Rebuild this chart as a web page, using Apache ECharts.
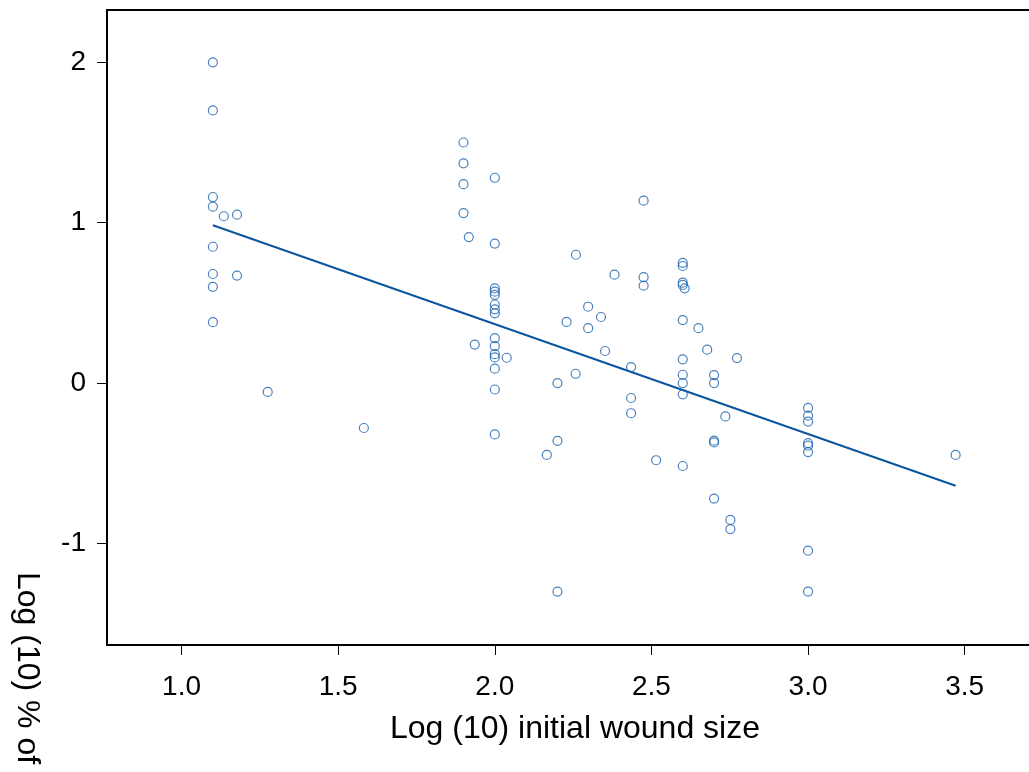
<!DOCTYPE html>
<html>
<head>
<meta charset="utf-8">
<script src="https://cdn.jsdelivr.net/npm/echarts@6.0.0/dist/echarts.min.js"></script>
<style>
  html, body { margin: 0; padding: 0; background: #fff; }
  #chart { width: 1029px; height: 772px; }
</style>
</head>
<body>
<div id="chart"></div>
<script>
const xVals = [
  1.1, 1.1, 1.1, 1.1, 1.1, 1.1, 1.1, 1.1,
  1.135, 1.177, 1.177, 1.275, 1.582,
  1.9, 1.9, 1.9, 1.9, 1.917, 1.936,
  2.0, 2.0, 2.0, 2.0, 2.0, 2.0, 2.0, 2.0, 2.0, 2.0, 2.0, 2.0, 2.0, 2.0, 2.0,
  2.038, 2.166, 2.2, 2.2, 2.2,
  2.229, 2.258, 2.259, 2.298, 2.298, 2.339, 2.352, 2.382,
  2.435, 2.435, 2.435, 2.475, 2.475, 2.475, 2.515,
  2.6, 2.6, 2.6, 2.6, 2.6, 2.6, 2.6, 2.6, 2.6, 2.6, 2.606,
  2.65, 2.678, 2.7, 2.7, 2.7, 2.7, 2.7,
  2.736, 2.752, 2.752, 2.773,
  3.0, 3.0, 3.0, 3.0, 3.0, 3.0, 3.0, 3.0,
  3.471
]
const yVals = [
  2.0, 1.70, 1.16, 1.10, 0.85, 0.68, 0.60, 0.38,
  1.04, 1.05, 0.67, -0.055, -0.28,
  1.50, 1.37, 1.24, 1.06, 0.91, 0.24,
  1.28, 0.87, 0.59, 0.57, 0.55, 0.49, 0.46, 0.435, 0.28, 0.23, 0.18, 0.16, 0.09, -0.04, -0.32,
  0.158, -0.448, 0.0, -0.36, -1.30,
  0.381, 0.058, 0.80, 0.476, 0.342, 0.412, 0.20, 0.676,
  0.10, -0.093, -0.188, 1.137, 0.66, 0.607, -0.481,
  0.75, 0.73, 0.626, 0.612, 0.393, 0.148, 0.052, 0.0, -0.07, -0.517, 0.591,
  0.342, 0.208, 0.05, 0.0, -0.359, -0.37, -0.72,
  -0.208, -0.853, -0.91, 0.156,
  -0.155, -0.203, -0.24, -0.375, -0.39, -0.43, -1.045, -1.30,
  -0.448
]

// fitted line end points
const fitX = [1.1, 3.471]
const fitY = [0.984, -0.64]

const xTicks = [1.0, 1.5, 2.0, 2.5, 3.0, 3.5]
const yTicks = [-1, 0, 1, 2]

const xTitle = 'Log (10) initial wound size'
const yTitle = 'Log (10) % of'

const FONT = 'Liberation Sans, Arial, sans-serif'

const chart = echarts.init(document.getElementById('chart'))

const points = xVals.map((x, i) => [x, yVals[i]])
const fitLine = fitX.map((x, i) => [x, fitY[i]])

// plot box runs past the right edge of the picture
const option = {
  animation: false,
  backgroundColor: '#fff',
  grid: {
    left: 107,
    top: 10,
    width: 936,
    height: 635,
    outerBoundsMode: 'none',
    containLabel: false,
    show: true,
    borderColor: '#000',
    borderWidth: 2,
  },
  xAxis: {
    type: 'value',
    min: 0.762,
    max: 3.75,
    axisLine: { show: true, onZero: false, lineStyle: { color: '#000', width: 2 } },
    axisTick: { show: true, length: 10, customValues: xTicks, lineStyle: { color: '#000', width: 1 } },
    axisLabel: {
      customValues: xTicks,
      formatter: v => v.toFixed(1),
      fontSize: 28,
      fontFamily: FONT,
      color: '#000',
      margin: 28,
    },
    splitLine: { show: false },
    name: xTitle,
    nameLocation: 'middle',
    nameGap: 68,
    nameTextStyle: { fontSize: 32, fontFamily: FONT, color: '#000' },
  },
  yAxis: {
    type: 'value',
    min: -1.633,
    max: 2.326,
    axisLine: { show: true, onZero: false, lineStyle: { color: '#000', width: 2 } },
    axisTick: { show: true, length: 10, customValues: yTicks, lineStyle: { color: '#000', width: 1 } },
    axisLabel: {
      customValues: yTicks,
      fontSize: 28,
      fontFamily: FONT,
      color: '#000',
      margin: 21,
    },
    splitLine: { show: false },
  },
  graphic: [
    {
      type: 'text',
      x: 27,
      y: 572,
      rotation: -Math.PI / 2,
      style: {
        text: yTitle,
        fontSize: 32,
        fontFamily: FONT,
        fill: '#000',
        align: 'left',
        verticalAlign: 'middle',
      },
    },
  ],
  series: [
    {
      type: 'line',
      data: fitLine,
      showSymbol: false,
      symbol: 'none',
      lineStyle: { color: '#0a559e', width: 2 },
      z: 2,
    },
    {
      type: 'scatter',
      data: points,
      symbol: 'circle',
      symbolSize: 9,
      itemStyle: { color: 'rgba(0,0,0,0)', borderColor: '#1c63ae', borderWidth: 1.2 },
      z: 3,
    },
  ],
}

chart.setOption(option)
</script>
</body>
</html>
